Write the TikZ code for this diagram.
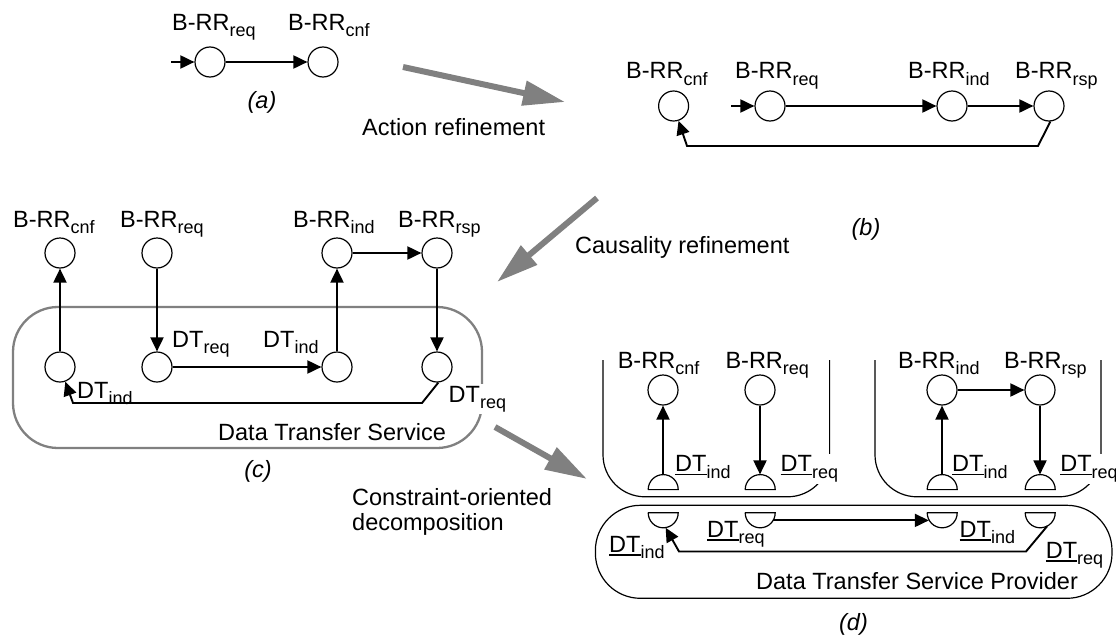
\documentclass[tikz,border=0pt]{standalone}
\usepackage{fontspec}
\setmainfont{Liberation Sans}
\usetikzlibrary{arrows.meta}
\definecolor{arrgray}{HTML}{808080}
\newcommand\sub[1]{\raisebox{-6.5pt}{\fontsize{18}{20}\selectfont #1}}
\newsavebox\dtbox
\newcommand\uDT{\sbox\dtbox{DT}\rlap{\rule[-3.5pt]{\wd\dtbox}{1.6pt}}\usebox\dtbox}
\begin{document}
\begin{tikzpicture}[x=1pt,y=-1pt,
  every node/.style={font=\fontsize{23.5}{28}\selectfont},
  ev/.style={circle,draw,line width=1.2pt,minimum size=30pt,inner sep=0pt},
  gate/.style={circle,minimum size=30pt,inner sep=0pt,draw=none},
  half/.style={line width=1.2pt},
  conn/.style={line width=1.9pt,-{Triangle[length=14pt,width=13pt]}},
  lbl/.style={anchor=base west,inner sep=0pt},
  wlbl/.style={anchor=base west,inner sep=1.5pt,fill=white},
  captxt/.style={anchor=base,inner sep=0pt,font=\fontsize{23.5}{28}\selectfont\itshape},
  bigarrow/.style={draw=arrgray,line width=6pt,-{Triangle[length=42pt,width=24pt]}},
  svcbox/.style={draw=arrgray,line width=2.3pt,rounded corners=45pt},
  ubox/.style={line width=1.2pt,rounded corners=42pt},
  pbox/.style={line width=1.2pt,rounded corners=45pt}
]
\useasboundingbox (0,0) rectangle (1116,637);

% ---------- (a)
\node[ev] (a1) at (210,62) {};
\node[ev] (a2) at (323,62) {};
\coordinate (a0) at (171,62);
\draw[conn] (a0) -- (a1);
\draw[conn] (a1) -- (a2);
\node[lbl] (la1) at (172,30) {B-RR\sub{req}};
\node[lbl] (la2) at (288,30) {B-RR\sub{cnf}};
\node[captxt] (capa) at (262,108) {(a)};

% ---------- arrows between stages
\coordinate (ar1s) at (403,67); \coordinate (ar1e) at (565,102);
\draw[bigarrow] (ar1s) -- (ar1e);
\node[lbl] (tact) at (362,135) {Action refinement};
\coordinate (ar2s) at (597,198); \coordinate (ar2e) at (497,282);
\draw[bigarrow] (ar2s) -- (ar2e);
\node[lbl] (tcau) at (575,253) {Causality refinement};
\coordinate (ar3s) at (495,427); \coordinate (ar3e) at (587,479);
\draw[bigarrow] (ar3s) -- (ar3e);
\node[lbl] (tcon1) at (352,505) {Constraint-oriented};
\node[lbl] (tcon2) at (352,530) {decomposition};

% ---------- (b)
\node[ev] (b1) at (673.6,106) {};
\node[ev] (b2) at (770,106) {};
\node[ev] (b3) at (952,106) {};
\node[ev] (b4) at (1049,106) {};
\coordinate (b0) at (731,106);
\draw[conn] (b0) -- (b2);
\draw[conn] (b2) -- (b3);
\draw[conn] (b3) -- (b4);
\coordinate (bk1) at (1038,146); \coordinate (bk2) at (687,146);
\draw[conn] (b4.-85) -- (bk1) -- (bk2) -- (b1);
\node[lbl] (lb1) at (626,78.6) {B-RR\sub{cnf}};
\node[lbl] (lb2) at (735,78.6) {B-RR\sub{req}};
\node[lbl] (lb3) at (908,78.6) {B-RR\sub{ind}};
\node[lbl] (lb4) at (1015,78.6) {B-RR\sub{rsp}};
\node[captxt] (capb) at (866,235) {(b)};

% ---------- (c)
\draw[svcbox] (13,307) rectangle (482,448);
\node[ev] (c1) at (60,253) {};
\node[ev] (c2) at (157,253) {};
\node[ev] (c3) at (337,253) {};
\node[ev] (c4) at (437,253) {};
\node[ev] (c5) at (60,367) {};
\node[ev] (c6) at (157,367) {};
\node[ev] (c7) at (337,367) {};
\node[ev] (c8) at (437,367) {};
\draw[conn] (c5) -- (c1);
\draw[conn] (c2) -- (c6);
\draw[conn] (c6) -- (c7);
\draw[conn] (c7) -- (c3);
\draw[conn] (c3) -- (c4);
\draw[conn] (c4) -- (c8);
\coordinate (ck1) at (422,403); \coordinate (ck2) at (73,403);
\draw[conn] (c8.-85) -- (ck1) -- (ck2) -- (c5);
\node[lbl] (lc1) at (13,227) {B-RR\sub{cnf}};
\node[lbl] (lc2) at (120,227) {B-RR\sub{req}};
\node[lbl] (lc3) at (293,227) {B-RR\sub{ind}};
\node[lbl] (lc4) at (398,227) {B-RR\sub{rsp}};
\node[lbl] (lc5) at (172,347) {DT\sub{req}};
\node[lbl] (lc6) at (263,347) {DT\sub{ind}};
\node[lbl] (lc7) at (77,398) {DT\sub{ind}};
\node[wlbl] (lc8) at (447,402) {DT\sub{req}};
\node[lbl] (lc9) at (218,440) {Data Transfer Service};
\node[captxt] (capc) at (258,477) {(c)};

% ---------- (d)
\draw[ubox] (603,360) -- (603,496.8) -- (829.6,496.8) -- (829.6,360);
\draw[ubox] (875,360) -- (875,496.8) -- (1101,496.8) -- (1101,360);
\draw[pbox] (595.4,505.3) rectangle (1112,598.3);
\node[ev] (d1) at (663,390) {};
\node[ev] (d2) at (760,390) {};
\node[ev] (d3) at (942,390) {};
\node[ev] (d4) at (1040,390) {};
% domes
\node[gate] (u1) at (663,489.6) {};
\node[gate] (u2) at (760,489.6) {};
\node[gate] (u3) at (942,489.6) {};
\node[gate] (u4) at (1040,489.6) {};
\foreach \g in {u1,u2,u3,u4}
  \draw[half] (\g.west) -- (\g.east) arc[start angle=0,end angle=180,radius=15pt];
% bowls
\node[gate] (w1) at (663,512.8) {};
\node[gate] (w2) at (760,512.8) {};
\node[gate] (w3) at (942,512.8) {};
\node[gate] (w4) at (1040,512.8) {};
\foreach \g in {w1,w2,w3,w4}
  \draw[half] (\g.west) -- (\g.east) arc[start angle=0,end angle=-180,radius=15pt];
\draw[conn] (u1.north) -- (d1);
\draw[conn] (d2) -- (u2.north);
\draw[conn] (u3.north) -- (d3);
\draw[conn] (d3) -- (d4);
\draw[conn] (d4) -- (u4.north);
\draw[conn] (w2.-30) -- (w3.210);
\coordinate (dk1) at (1026,551.5); \coordinate (dk2) at (679,551.5);
\draw[conn] (w4.-62) -- (dk1) -- (dk2) -- (w1.-80);
\node[lbl] (ld1) at (617.6,368) {B-RR\sub{cnf}};
\node[lbl] (ld2) at (725.3,368) {B-RR\sub{req}};
\node[lbl] (ld3) at (898,368) {B-RR\sub{ind}};
\node[lbl] (ld4) at (1004,368) {B-RR\sub{rsp}};
\node[lbl] (ld5) at (675,471.8) {\uDT\sub{ind}};
\node[wlbl] (ld6) at (779,471.8) {\uDT\sub{req}};
\node[lbl] (ld7) at (952,471.8) {\uDT\sub{ind}};
\node[wlbl] (ld8) at (1058.6,471.8) {\uDT\sub{req}};
\node[lbl] (ld9) at (609,552) {\uDT\sub{ind}};
\node[lbl] (ld10) at (707,537.4) {\uDT\sub{req}};
\node[lbl] (ld11) at (959.5,537.4) {\uDT\sub{ind}};
\node[lbl] (ld12) at (1045.6,558) {\uDT\sub{req}};
\node[lbl] (ld13) at (756,589.7) {Data Transfer Service Provider};
\node[captxt] (capd) at (853.5,630) {(d)};
\end{tikzpicture}
\end{document}
